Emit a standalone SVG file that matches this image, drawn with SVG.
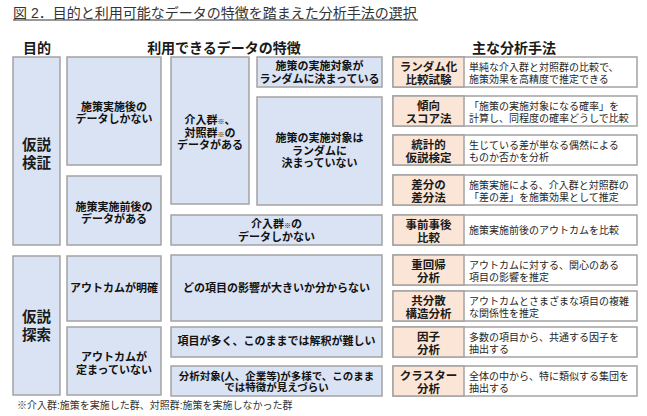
<svg xmlns="http://www.w3.org/2000/svg" width="647" height="416" viewBox="0 0 647 416">
<style>
text{font-family:"Liberation Sans","Noto Sans CJK JP",sans-serif;fill:#222}
.title{font-size:14px;fill:#333}
.hdr{font-size:14px;font-weight:bold;text-anchor:middle;fill:#1a1a1a}
.blue{fill:#DAE3F3;stroke:#A3A3A3;stroke-width:1.5}
.org{fill:#FBE5D6;stroke:#A3A3A3;stroke-width:1.5}
.wht{fill:#FFFFFF;stroke:#A3A3A3;stroke-width:1.5}
.goal{font-size:14.5px;font-weight:bold;text-anchor:middle;fill:#1a1a1a}
.lab{font-size:11px;font-weight:bold;text-anchor:middle;fill:#111}
.lab2{font-size:10.5px;font-weight:bold;text-anchor:middle;fill:#111}
.sm{font-size:7px}
.mn{font-size:11.5px;font-weight:bold;text-anchor:middle;fill:#1a1a1a}
.ds{font-size:10px;fill:#262626}
.fn{font-size:10px;fill:#333}
</style>
<rect width="647" height="416" fill="#ffffff"/>
<g id="title">
<text class="title" x="13" y="17.5">図 2．目的と利用可能なデータの特徴を踏まえた分析手法の選択</text>
<line x1="13" y1="20" x2="418" y2="20" stroke="#333" stroke-width="1"/>
</g>
<g id="headers">
<text class="hdr" x="37" y="53">目的</text>
<text class="hdr" x="224" y="53">利用できるデータの特徴</text>
<text class="hdr" x="514" y="53">主な分析手法</text>
</g>
<g id="connectors"/>
<g id="goal-verify">
<rect class="blue" x="13" y="57" width="47" height="188"/>
<text class="goal" x="36.5" y="150">仮説</text>
<text class="goal" x="36.5" y="167.5">検証</text>
</g>
<g id="goal-explore">
<rect class="blue" x="13" y="256" width="47" height="139"/>
<text class="goal" x="36.5" y="322">仮説</text>
<text class="goal" x="36.5" y="339.5">探索</text>
</g>
<g id="data-after-only">
<rect class="blue" x="67" y="57" width="94" height="108"/>
<text class="lab" x="114" y="111">施策実施後の</text>
<text class="lab" x="114" y="123">データしかない</text>
</g>
<g id="data-before-after">
<rect class="blue" x="67" y="176" width="94" height="69"/>
<text class="lab" x="114" y="211">施策実施前後の</text>
<text class="lab" x="114" y="223">データがある</text>
</g>
<g id="data-both-groups">
<rect class="blue" x="171" y="57" width="78" height="147"/>
<text class="lab" x="210" y="124">介入群<tspan class="sm">※</tspan>、</text>
<text class="lab" x="210" y="136.5">対照群<tspan class="sm">※</tspan>の</text>
<text class="lab" x="210" y="149">データがある</text>
</g>
<g id="data-random">
<rect class="blue" x="257" y="57" width="125" height="30"/>
<text class="lab" x="319.5" y="70">施策の実施対象が</text>
<text class="lab" x="319.5" y="82.5">ランダムに決まっている</text>
</g>
<g id="data-not-random">
<rect class="blue" x="257" y="97" width="125" height="108"/>
<text class="lab" x="319.5" y="142">施策の実施対象は</text>
<text class="lab" x="319.5" y="154.5">ランダムに</text>
<text class="lab" x="319.5" y="167">決まっていない</text>
</g>
<g id="data-intervention-only">
<rect class="blue" x="171" y="215" width="211" height="30"/>
<text class="lab" x="276.5" y="228">介入群<tspan class="sm">※</tspan>の</text>
<text class="lab" x="276.5" y="240.5">データしかない</text>
</g>
<g id="outcome-clear">
<rect class="blue" x="67" y="256" width="94" height="65"/>
<text class="lab" x="114" y="292">アウトカムが明確</text>
</g>
<g id="outcome-undefined">
<rect class="blue" x="67" y="327" width="94" height="68"/>
<text class="lab" x="114" y="361">アウトカムが</text>
<text class="lab" x="114" y="373.5">定まっていない</text>
</g>
<g id="unknown-influence">
<rect class="blue" x="171" y="255" width="211" height="66"/>
<text class="lab" x="276.5" y="292">どの項目の影響が大きいか分からない</text>
</g>
<g id="many-items">
<rect class="blue" x="171" y="327" width="211" height="30"/>
<text class="lab" x="276.5" y="344.5">項目が多く、このままでは解釈が難しい</text>
</g>
<g id="diverse-targets">
<rect class="blue" x="171" y="366" width="211" height="30"/>
<text class="lab2" x="276.5" y="379.5">分析対象(人、企業等)が多様で、このまま</text>
<text class="lab2" x="276.5" y="391">では特徴が見えづらい</text>
</g>
<g id="m-rct">
<rect class="wht" x="393" y="57" width="244" height="30"/>
<rect class="org" x="393" y="57" width="71" height="30"/>
<text class="mn" x="428.5" y="71">ランダム化</text>
<text class="mn" x="428.5" y="83.5">比較試験</text>
<text class="ds" x="469" y="70.5">単純な介入群と対照群の比較で、</text>
<text class="ds" x="469" y="82.5">施策効果を高精度で推定できる</text>
</g>
<g id="m-psm">
<rect class="wht" x="393" y="96" width="244" height="30"/>
<rect class="org" x="393" y="96" width="71" height="30"/>
<text class="mn" x="428.5" y="110">傾向</text>
<text class="mn" x="428.5" y="122.5">スコア法</text>
<text class="ds" x="469" y="109.5">「施策の実施対象になる確率」を</text>
<text class="ds" x="469" y="121.5">計算し、同程度の確率どうしで比較</text>
</g>
<g id="m-test">
<rect class="wht" x="393" y="135" width="244" height="30"/>
<rect class="org" x="393" y="135" width="71" height="30"/>
<text class="mn" x="428.5" y="149">統計的</text>
<text class="mn" x="428.5" y="161.5">仮説検定</text>
<text class="ds" x="469" y="148.5">生じている差が単なる偶然による</text>
<text class="ds" x="469" y="160.5">ものか否かを分析</text>
</g>
<g id="m-did">
<rect class="wht" x="393" y="175" width="244" height="30"/>
<rect class="org" x="393" y="175" width="71" height="30"/>
<text class="mn" x="428.5" y="189">差分の</text>
<text class="mn" x="428.5" y="201.5">差分法</text>
<text class="ds" x="469" y="188.5">施策実施による、介入群と対照群の</text>
<text class="ds" x="469" y="200.5">「差の差」を施策効果として推定</text>
</g>
<g id="m-prepost">
<rect class="wht" x="393" y="215" width="244" height="30"/>
<rect class="org" x="393" y="215" width="71" height="30"/>
<text class="mn" x="428.5" y="229">事前事後</text>
<text class="mn" x="428.5" y="241.5">比較</text>
<text class="ds" x="469" y="234">施策実施前後のアウトカムを比較</text>
</g>
<g id="m-regression">
<rect class="wht" x="393" y="255" width="244" height="30"/>
<rect class="org" x="393" y="255" width="71" height="30"/>
<text class="mn" x="428.5" y="269">重回帰</text>
<text class="mn" x="428.5" y="281.5">分析</text>
<text class="ds" x="469" y="268.5">アウトカムに対する、関心のある</text>
<text class="ds" x="469" y="280.5">項目の影響を推定</text>
</g>
<g id="m-sem">
<rect class="wht" x="393" y="291" width="244" height="30"/>
<rect class="org" x="393" y="291" width="71" height="30"/>
<text class="mn" x="428.5" y="305">共分散</text>
<text class="mn" x="428.5" y="317.5">構造分析</text>
<text class="ds" x="469" y="304.5">アウトカムとさまざまな項目の複雑</text>
<text class="ds" x="469" y="316.5">な関係性を推定</text>
</g>
<g id="m-factor">
<rect class="wht" x="393" y="327" width="244" height="30"/>
<rect class="org" x="393" y="327" width="71" height="30"/>
<text class="mn" x="428.5" y="341">因子</text>
<text class="mn" x="428.5" y="353.5">分析</text>
<text class="ds" x="469" y="340.5">多数の項目から、共通する因子を</text>
<text class="ds" x="469" y="352.5">抽出する</text>
</g>
<g id="m-cluster">
<rect class="wht" x="393" y="366" width="244" height="30"/>
<rect class="org" x="393" y="366" width="71" height="30"/>
<text class="mn" x="428.5" y="380">クラスター</text>
<text class="mn" x="428.5" y="392.5">分析</text>
<text class="ds" x="469" y="379.5">全体の中から、特に類似する集団を</text>
<text class="ds" x="469" y="391.5">抽出する</text>
</g>
<g id="footnote">
<text class="fn" x="17" y="409">※介入群:施策を実施した群、対照群:施策を実施しなかった群</text>
</g>
</svg>
